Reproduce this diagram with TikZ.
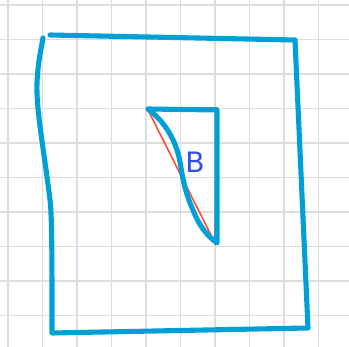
\documentclass[tikz,border=0pt]{standalone}
\usepackage{fontspec}
\setmainfont{DejaVu Sans}
\usepackage{tikz}

\definecolor{gridgray}{HTML}{DDDDDD}
\definecolor{penblue}{HTML}{00A0D6}
\definecolor{penred}{HTML}{FF4A3A}
\definecolor{labelblue}{HTML}{3050EE}

\begin{document}
\begin{tikzpicture}[x=0.02cm,y=-0.02cm,
        gridline/.style={draw=gridgray,line width=1.1pt},
        pen/.style={draw=penblue,line width=2.9pt,line cap=round,line join=round},
        redpen/.style={draw=penred,line width=0.9pt,line cap=round}]

        \useasboundingbox (0,0) rectangle (349,347);
        \fill[white] (0,0) rectangle (349,347);

        % squared paper
        \foreach \k in {0,...,9} {
            \draw[gridline] ({8+34.5*\k},0) -- ({8+34.5*\k},347);
            \draw[gridline] (0,{5+34.5*\k}) -- (349,{5+34.5*\k});
        }

        % red triangle underneath
        \draw[redpen] (147,108) -- (217,108) -- (215,243) -- cycle;

        % big outline
        \draw[pen] (50,35) -- (295,40) -- (308,328) -- (52,333)
            .. controls (52,260) and (52,215) .. (50,200)
            .. controls (44,150) and (36,110) .. (37,83)
            .. controls (38,60) and (42,45) .. (43,38);

        % region B
        \draw[pen] (148,109) -- (217,110) -- (217,243)
            .. controls (208,236) and (200,228) .. (193,210)
            .. controls (185,192) and (183,180) .. (180,162)
            .. controls (176,140) and (165,122) .. (148,109);

        \node[text=labelblue,font=\fontsize{16}{16}\selectfont] (b) at (195,162) {B};

    \end{tikzpicture}
\end{document}
